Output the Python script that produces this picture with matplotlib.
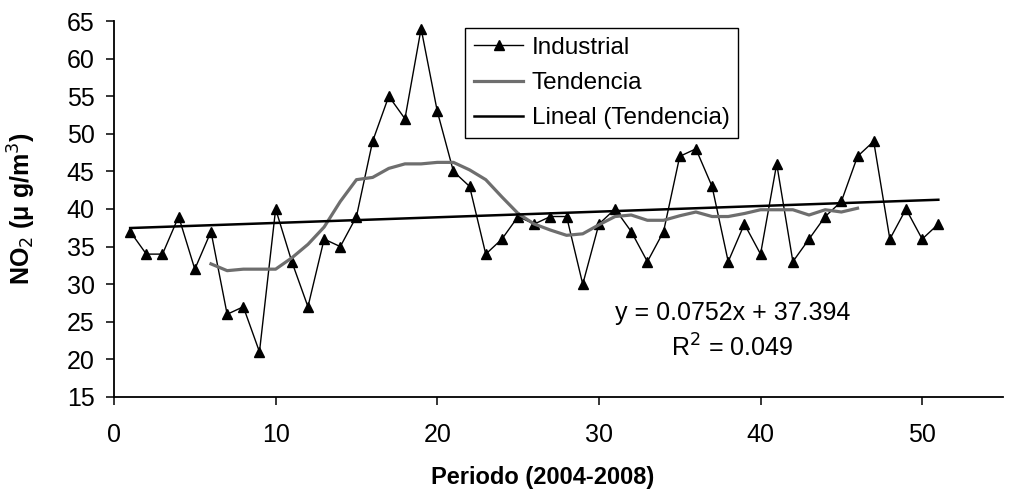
import numpy as np
import matplotlib
matplotlib.use('Agg')
import matplotlib.pyplot as plt

plt.rcParams['font.family'] = ['Liberation Sans', 'DejaVu Sans']

# Industrial NO2 series (period 1..51)
periodo = list(range(1, 52))
industrial = [37, 34, 34, 39, 32, 37, 26, 27, 21, 40,
              33, 27, 36, 35, 39, 49, 55, 52, 64, 53,
              45, 43, 34, 36, 39, 38, 39, 39, 30, 38,
              40, 37, 33, 37, 47, 48, 43, 33, 38, 34,
              46, 33, 36, 39, 41, 47, 49, 36, 40, 36, 38]

# moving average "Tendencia" (period 6..46)
tend_x = list(range(6, 47))
tendencia = [32.7, 31.8, 32.0, 32.0, 32.0, 33.5, 35.3, 37.6, 41.0, 43.9,
             44.2, 45.4, 46.0, 46.0, 46.2, 46.2, 45.2, 43.9, 41.6, 39.4,
             38.0, 37.2, 36.5, 36.7, 37.9, 39.0, 39.2, 38.5, 38.5, 39.1,
             39.6, 39.0, 39.0, 39.4, 39.9, 39.9, 39.9, 39.2, 39.9, 39.6, 40.1]

# linear trend shown on chart: y = 0.0752x + 37.394
slope, intercept = 0.0752, 37.394
lin_x = np.array([1, 51])

fig = plt.figure(figsize=(10.11, 4.91), dpi=100)
ax = fig.add_axes([114/1011, 94/491, 889/1011, 376/491])

ax.plot(periodo, industrial, color='black', lw=1.0, marker='^', ms=6.5,
        label='Industrial')
ax.plot(tend_x, tendencia, color='#6e6e6e', lw=2.3, label='Tendencia')
ax.plot(lin_x, slope * lin_x + intercept, color='black', lw=1.8,
        label='Lineal (Tendencia)')

ax.set_xlim(0, 55)
ax.set_ylim(15, 65)
ax.set_xticks([0, 10, 20, 30, 40, 50])
ax.set_yticks(range(15, 66, 5))
for s in ['top', 'right']:
    ax.spines[s].set_visible(False)
for s in ['left', 'bottom']:
    ax.spines[s].set_linewidth(1.3)
ax.tick_params(direction='out', length=6, width=1.1, labelsize=18)
ax.tick_params(axis='x', pad=13)
ax.tick_params(axis='y', pad=8)

ax.set_xlabel('Periodo (2004-2008)', fontsize=17, fontweight='bold')
ax.xaxis.set_label_coords((543 - 114) / 889, -(466 - 397) / 376)
ax.set_ylabel('NO$_2$ (μ g/m$^3$)', fontsize=18, fontweight='bold')
ax.yaxis.set_label_coords(-(114 - 38) / 889, 0.5)

leg = ax.legend(loc='upper left', bbox_to_anchor=(0.395, 0.981),
                borderaxespad=0, fontsize=17.5, handlelength=2.05,
                handletextpad=0.35, labelspacing=0.55, borderpad=0.35,
                fancybox=False, framealpha=1)
leg.get_frame().set_edgecolor('black')
leg.get_frame().set_linewidth(1.0)

ax.text(38.25, 26.2, 'y = 0.0752x + 37.394', fontsize=18, ha='center', va='center')
ax.text(38.25, 21.5, 'R$^2$ = 0.049', fontsize=18, ha='center', va='center')

fig.savefig('out.png', dpi=100)
